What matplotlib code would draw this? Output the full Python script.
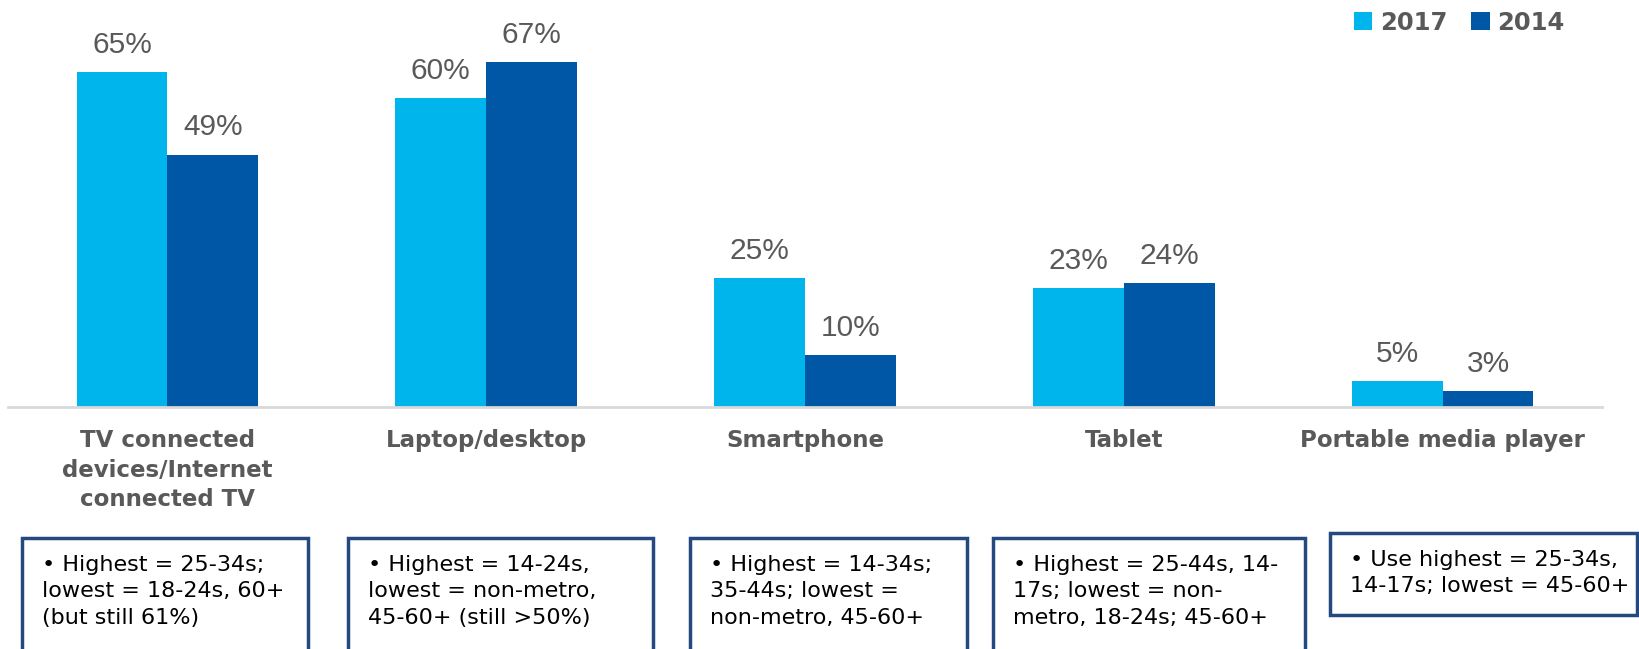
import matplotlib
matplotlib.use("Agg")
import numpy as np
import matplotlib.pyplot as plt
from matplotlib.patches import Rectangle

categories = ["TV connected\ndevices/Internet\nconnected TV", "Laptop/desktop",
              "Smartphone", "Tablet", "Portable media player"]
vals_2017 = [65, 60, 25, 23, 5]
vals_2014 = [49, 67, 10, 24, 3]
notes = [
    "\u2022 Highest = 25-34s;\nlowest = 18-24s, 60+\n(but still 61%)",
    "\u2022 Highest = 14-24s,\nlowest = non-metro,\n45-60+ (still >50%)",
    "\u2022 Highest = 14-34s;\n35-44s; lowest =\nnon-metro, 45-60+",
    "\u2022 Highest = 25-44s, 14-\n17s; lowest = non-\nmetro, 18-24s; 45-60+",
    "\u2022 Use highest = 25-34s,\n14-17s; lowest = 45-60+",
]

light = "#00B4EC"
dark = "#0057A6"
grey = "#595959"
border = "#24497F"

W, H = 1640, 649
fig = plt.figure(figsize=(W / 100, H / 100), dpi=100)
ax = fig.add_axes([8 / W, 1 - 406.5 / H, 1594 / W, 406 / H])

x = np.arange(len(categories))
bw = 0.285
b1 = ax.bar(x - bw / 2, vals_2017, bw, color=light, label="2017")
b2 = ax.bar(x + bw / 2, vals_2014, bw, color=dark, label="2014")

for bars in (b1, b2):
    for r in bars:
        ax.annotate(f"{r.get_height():.0f}%", (r.get_x() + r.get_width() / 2, r.get_height()),
                    xytext=(0, 9.5), textcoords="offset points", ha="center", va="bottom",
                    fontsize=21.5, color=grey, family="Liberation Sans")

ax.set_xlim(-0.5, 4.5)
ax.set_ylim(0, 79)
for s in ["top", "right", "left"]:
    ax.spines[s].set_visible(False)
ax.spines["bottom"].set_color("#D9D9D9")
ax.spines["bottom"].set_linewidth(2)
ax.set_yticks([])
ax.set_xticks(x)
ax.set_xticklabels(categories, fontsize=16.5, fontweight="bold", color=grey,
                   linespacing=1.35, va="top")
ax.tick_params(axis="x", length=0, pad=16.5)

leg = fig.legend(handles=[b1, b2], labels=["2017", "2014"], loc="upper right",
                 bbox_to_anchor=(1586 / W, 1.017), ncol=2, frameon=False,
                 handlelength=0.75, handleheight=0.75, handletextpad=0.3, columnspacing=1.0,
                 prop={"size": 17.5, "weight": "bold"})
for t in leg.get_texts():
    t.set_color(grey)

# note boxes under each category (pixel coords, top-left origin)
boxes = [(22, 538, 308, 700), (348, 538, 653, 700), (690, 538, 967, 700),
         (993, 538, 1305, 700), (1330, 533, 1637, 615)]
for (x0, y0, x1, y1), note in zip(boxes, notes):
    fig.patches.append(Rectangle((x0 / W, 1 - y1 / H), (x1 - x0) / W, (y1 - y0) / H,
                                 transform=fig.transFigure, fill=False,
                                 edgecolor=border, linewidth=2.5))
    fig.text((x0 + 20) / W, 1 - (y0 + 17) / H, note, ha="left", va="top",
             fontsize=16, color="black", linespacing=1.4)

fig.savefig("out.png", dpi=100)
